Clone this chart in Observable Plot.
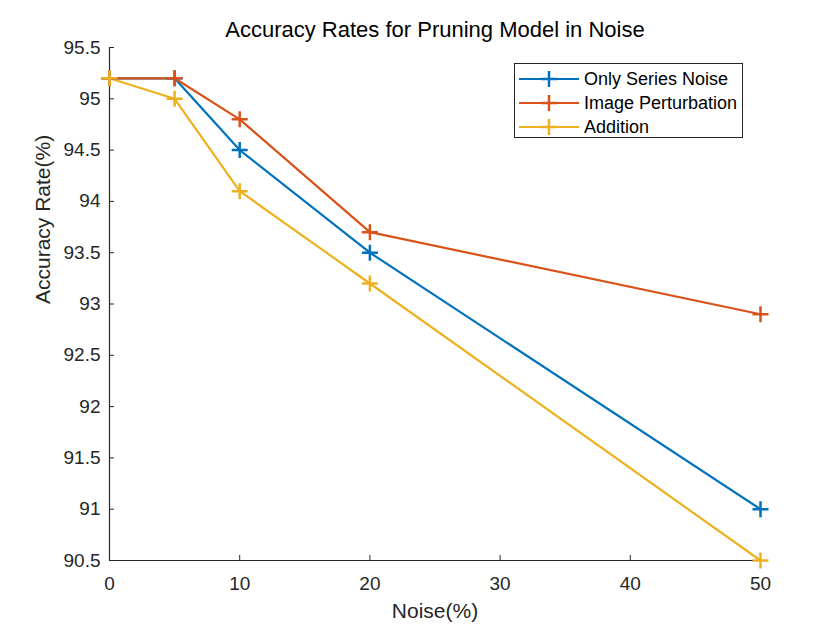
<!DOCTYPE html>
<html>
<head>
<meta charset="utf-8">
<script src="https://cdn.jsdelivr.net/npm/d3@7"></script>
<script src="https://cdn.jsdelivr.net/npm/@observablehq/plot@0.6"></script>
<style>
  html, body { margin: 0; padding: 0; background: #fff; }
  #wrap { position: relative; width: 840px; height: 630px; font-family: "Liberation Sans", Arial, sans-serif; }
  #title { position: absolute; left: 0; width: 870px; top: 17px; text-align: center; font-size: 22px; color: #000; white-space: nowrap; }
  #legend { position: absolute; left: 514px; top: 63px; width: 229px; height: 75px; border: 1px solid #262626; background: #fff; box-sizing: border-box; font-size: 18px; color: #000; }
  .row { position: absolute; left: 0; height: 24px; display: flex; align-items: center; }
  .row svg { margin-left: 4px; }
  .row span { margin-left: 5px; }
</style>
</head>
<body>
<div id="wrap">
  <div id="chart"></div>
  <div id="title">Accuracy Rates for Pruning Model in Noise</div>
  <div id="legend"></div>
</div>
<script>
const noise = [0, 5, 10, 20, 50];
const seriesNames = ["Only Series Noise", "Image Perturbation", "Addition"];
const onlySeriesNoise = [95.2, 95.2, 94.5, 93.5, 91.0];
const imagePerturbation = [95.2, 95.2, 94.8, 93.7, 92.9];
const addition = [95.2, 95.0, 94.1, 93.2, 90.5];
const colors = ["#0072BD", "#D95319", "#EDB120"];
const xTicks = [0, 10, 20, 30, 40, 50];
const yTicks = [90.5, 91, 91.5, 92, 92.5, 93, 93.5, 94, 94.5, 95, 95.5];
const xLabel = "Noise(%)";
const yLabel = "Accuracy Rate(%)";

const seriesValues = [onlySeriesNoise, imagePerturbation, addition];
const data = seriesNames.flatMap((name, i) =>
  noise.map((x, j) => ({series: name, x, y: seriesValues[i][j]}))
);

const plusSymbol = {
  draw(context, size) {
    const r = Math.sqrt(size / Math.PI);
    context.moveTo(-r, 0); context.lineTo(r, 0);
    context.moveTo(0, -r); context.lineTo(0, r);
  }
};

const chart = Plot.plot({
  width: 840,
  height: 630,
  marginLeft: 109,
  marginRight: 80,
  marginTop: 47,
  marginBottom: 70,
  style: {fontFamily: "'Liberation Sans', Arial, sans-serif", fontSize: "19px", color: "#262626", background: "#fff"},
  x: {domain: [0, 50]},
  y: {domain: [90.5, 95.5]},
  color: {domain: seriesNames, range: colors},
  marks: [
    Plot.ruleX([0], {stroke: "#262626", strokeWidth: 1.2}),
    Plot.ruleY([90.5], {stroke: "#262626", strokeWidth: 1.2}),
    Plot.axisX({ticks: xTicks, tickSize: -5, tickPadding: 21, fontSize: 19, fill: "#262626", stroke: "#262626", label: null}),
    Plot.axisY({ticks: yTicks, tickSize: -5, tickPadding: 14, fontSize: 19, fill: "#262626", stroke: "#262626",
      tickFormat: d => String(d), label: null}),
    Plot.text([xLabel], {frameAnchor: "bottom", dy: 57, fontSize: 21, fill: "#262626"}),
    Plot.text([yLabel], {frameAnchor: "left", dx: -66, rotate: -90, fontSize: 21, fill: "#262626"}),
    Plot.line(data, {x: "x", y: "y", z: "series", stroke: "series", strokeWidth: 2.2}),
    Plot.dot(data, {x: "x", y: "y", stroke: "series", fill: "none", symbol: plusSymbol, r: 8, strokeWidth: 2.5})
  ]
});
document.getElementById("chart").appendChild(chart);

const legend = document.getElementById("legend");
seriesNames.forEach((name, i) => {
  const row = document.createElement("div");
  row.className = "row";
  row.style.top = (3 + i * 24) + "px";
  row.innerHTML = `<svg width="60" height="20"><line x1="0" x2="60" y1="10" y2="10" stroke="${colors[i]}" stroke-width="2.2"/><line x1="30" x2="30" y1="2" y2="18" stroke="${colors[i]}" stroke-width="2.5"/><line x1="22" x2="38" y1="10" y2="10" stroke="${colors[i]}" stroke-width="2.5"/></svg><span>${name}</span>`;
  legend.appendChild(row);
});
</script>
</body>
</html>
